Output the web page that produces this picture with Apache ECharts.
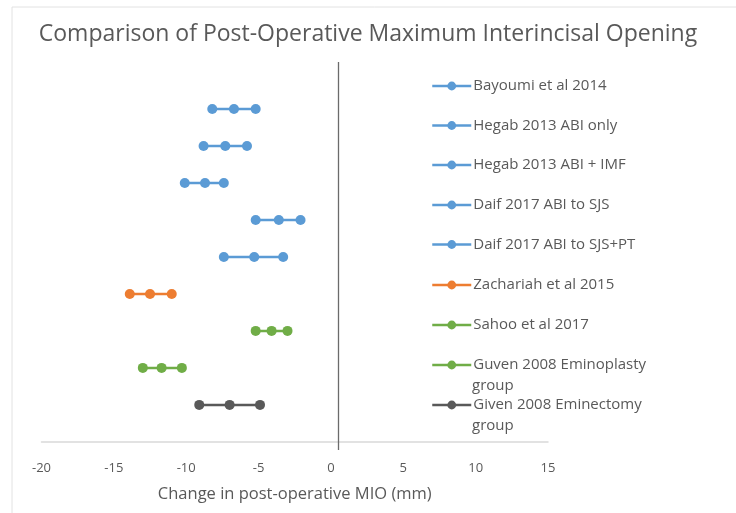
<!DOCTYPE html>
<html><head><meta charset="utf-8">
<script src="https://cdn.jsdelivr.net/npm/echarts@6/dist/echarts.min.js"></script>
<style>html,body{margin:0;padding:0;background:#fff}#c{width:736px;height:513px}</style>
</head><body><div id="c"></div>
<script>
const studies = ["Bayoumi et al 2014","Hegab 2013 ABI only","Hegab 2013 ABI + IMF","Daif 2017 ABI to SJS","Daif 2017 ABI to SJS+PT","Zachariah et al 2015","Sahoo et al 2017","Guven 2008 Eminoplasty group","Given 2008 Eminectomy group"];
const legendLine1 = ["Bayoumi et al 2014","Hegab 2013 ABI only","Hegab 2013 ABI + IMF","Daif 2017 ABI to SJS","Daif 2017 ABI to SJS+PT","Zachariah et al 2015","Sahoo et al 2017","Guven 2008 Eminoplasty","Given 2008 Eminectomy"];
const legendLine2 = ["","","","","","","","group","group"];
const lower = [-8.2,-8.8,-10.1,-5.2,-7.4,-13.9,-5.2,-13.0,-9.1];
const mean  = [-6.7,-7.3,-8.7,-3.6,-5.3,-12.5,-4.1,-11.7,-7.0];
const upper = [-5.2,-5.8,-7.4,-2.1,-3.3,-11.0,-3.0,-10.3,-4.9];
const rowPos = [9,8,7,6,5,4,3,2,1];
const colors = ["#5B9BD5","#5B9BD5","#5B9BD5","#5B9BD5","#5B9BD5","#ED7D31","#70AD47","#70AD47","#595959"];
const xTicks = [-20,15,5];
const refLine = 0.5;

const chart = echarts.init(document.getElementById('c'));
const series = studies.map((s,i)=>({
  name: s, type:'line', data:[[lower[i],rowPos[i]],[mean[i],rowPos[i]],[upper[i],rowPos[i]]],
  symbol:'circle', symbolSize:10, lineStyle:{width:2.5,color:colors[i]}, itemStyle:{color:colors[i]},
  z:3
}));
series.push({type:'line',data:[],markLine:{silent:true,symbol:'none',label:{show:false},
  lineStyle:{color:'#6b6b6b',width:1.3,type:'solid'},
  data:[[{coord:[refLine,-0.22]},{coord:[refLine,10.27]}]]}});
const legendCenters = [86,125.5,165,205,244.5,285,325,365,405];
const legendFont = {color:'#595959',fontSize:15,fontFamily:'Open Sans'};
const legends = studies.map((s,i)=>({
  data:[s], orient:'vertical', left:431, top:legendCenters[i]-10, itemWidth:39, itemHeight:11, itemGap:0, padding:0,
  lineStyle:{width:2.5}, 
  formatter: ()=>legendLine1[i],
  textStyle:Object.assign({lineHeight:20,padding:[0,0,0,-3]},legendFont),
  selectedMode:false
}));
const graphics = [{type:'rect',shape:{x:12,y:7,width:740,height:520},style:{fill:'none',stroke:'#e2e2e2',lineWidth:1},silent:true,z:-1}];
legendLine2.forEach((t,i)=>{ if(t) graphics.push({type:'text',left:472,top:legendCenters[i]+13,silent:true,
  style:{text:t,fill:legendFont.color,font:'15px "Open Sans"'}}); });
chart.setOption({
  animation:false,
  title:{text:'Comparison of Post-Operative Maximum Interincisal Opening',left:'center',top:18,
    textStyle:{color:'#595959',fontSize:23,fontWeight:'normal',fontFamily:'Open Sans'}},
  graphic:graphics,
  legend: legends,
  grid:{left:41.5,width:506.5,top:62,bottom:63},
  xAxis:{type:'value',min:xTicks[0],max:xTicks[1],interval:xTicks[2],
    axisLine:{show:true,onZero:true,lineStyle:{color:'#d9d9d9',width:1.5}},
    axisTick:{show:false},splitLine:{show:false},
    axisLabel:{color:'#595959',fontSize:13,fontFamily:'Open Sans',margin:12},
    name:'Change in post-operative MIO (mm)',nameLocation:'middle',nameGap:36,
    nameTextStyle:{color:'#595959',fontSize:16.5,fontFamily:'Open Sans'}},
  yAxis:{type:'value',min:-0.22,max:10.27,show:false},
  series
});
</script></body></html>
